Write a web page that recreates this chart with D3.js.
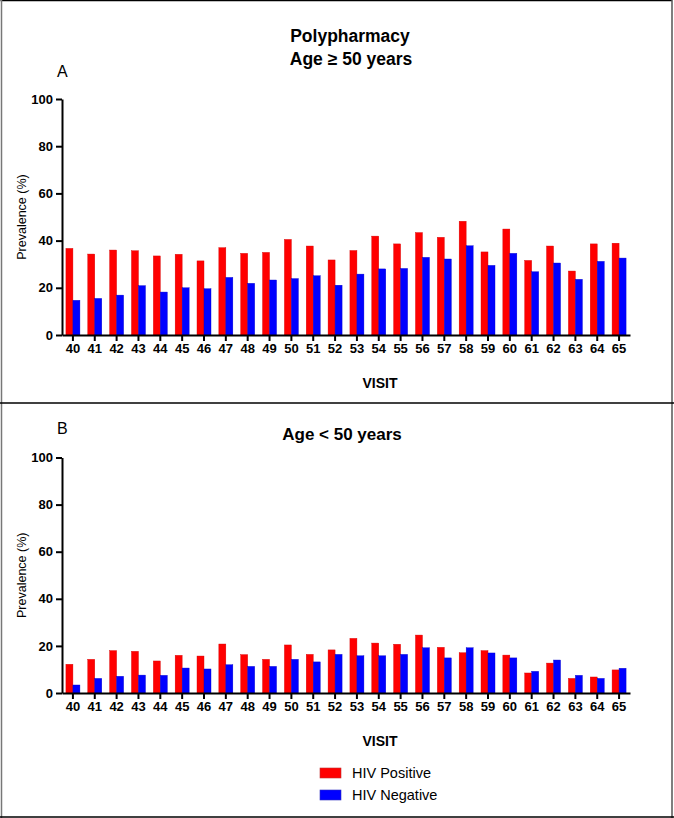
<!DOCTYPE html>
<html>
<head>
<meta charset="utf-8">
<script src="https://cdn.jsdelivr.net/npm/d3@7"></script>
<style>
  html, body { margin: 0; padding: 0; background: #fff; }
  svg { display: block; font-family: "Liberation Sans", Arial, sans-serif; }
</style>
</head>
<body>
<svg id="chart" width="674" height="818"></svg>
<script>
// ---- Data ----
const visits = ["40","41","42","43","44","45","46","47","48","49","50","51","52","53","54","55","56","57","58","59","60","61","62","63","64","65"];
const seriesNames = ["HIV Positive", "HIV Negative"];
const seriesColors = ["#ff0000", "#0000ff"];
const yTicks = [0, 20, 40, 60, 80, 100];

// Panel A: Age >= 50 years
const olderPositive = [36.7,34.3,36.0,35.7,33.5,34.2,31.4,37.0,34.6,35.0,40.5,37.7,31.8,35.8,41.9,38.6,43.4,41.4,48.2,35.2,44.9,31.6,37.7,27.1,38.6,38.9];
const olderNegative = [14.7,15.5,16.9,20.9,18.2,20.0,19.6,24.4,21.9,23.3,23.9,25.1,21.1,25.8,28.0,28.2,32.9,32.2,37.8,29.5,34.6,26.8,30.5,23.6,31.2,32.6];

// Panel B: Age < 50 years
const youngerPositive = [12.2,14.3,18.0,17.7,13.6,16.0,15.7,20.8,16.3,14.3,20.4,16.4,18.3,23.2,21.2,20.7,24.6,19.4,17.1,18.0,16.1,8.5,12.7,6.2,6.8,9.8];
const youngerNegative = [3.4,6.2,7.1,7.6,7.5,10.6,10.2,12.0,11.3,11.3,14.3,13.2,16.4,15.8,15.8,16.4,19.2,14.9,19.2,17.0,14.9,9.2,14.0,7.5,6.2,10.5];

// ---- Drawing ----
const svg = d3.select("#chart");

// frame
svg.append("line").attr("x1", 0.5).attr("y1", 0.5).attr("x2", 672).attr("y2", 0.5).attr("stroke", "#000").attr("stroke-width", 1.5);
svg.append("line").attr("x1", 1.5).attr("y1", 0).attr("x2", 1.5).attr("y2", 818).attr("stroke", "#777").attr("stroke-width", 1.5);
svg.append("line").attr("x1", 672).attr("y1", 0).attr("x2", 672).attr("y2", 818).attr("stroke", "#555").attr("stroke-width", 1.5);
svg.append("line").attr("x1", 0).attr("y1", 403).attr("x2", 674).attr("y2", 403).attr("stroke", "#000").attr("stroke-width", 1.5);
svg.append("line").attr("x1", 0).attr("y1", 817).attr("x2", 674).attr("y2", 817).attr("stroke", "#000").attr("stroke-width", 1.5);

function drawPanel(cfg) {
  const { top, bottom, left, right, pos, neg } = cfg;
  const g = svg.append("g");
  const x = d3.scaleBand().domain(visits).range([left, right]).padding(0);
  const inner = d3.scaleBand().domain(seriesNames).range([x.bandwidth() / 2 - 7, x.bandwidth() / 2 + 7]).padding(0);
  const y = d3.scaleLinear().domain([0, 100]).range([bottom, top]);

  const rows = visits.map((v, i) => ({ visit: v, values: [pos[i], neg[i]] }));
  const groups = g.selectAll("g.grp").data(rows).join("g")
    .attr("class", "grp")
    .attr("transform", d => `translate(${x(d.visit)},0)`);
  groups.selectAll("rect").data(d => d.values.map((val, k) => ({ name: seriesNames[k], val, k })))
    .join("rect")
    .attr("x", d => inner(d.name))
    .attr("width", inner.bandwidth())
    .attr("y", d => y(d.val))
    .attr("height", d => y(0) - y(d.val))
    .attr("fill", d => seriesColors[d.k])
    .attr("stroke", d => d.k === 0 ? "#d40000" : "#0000c8")
    .attr("stroke-width", 0.4);

  // y axis
  const yAxis = g.append("g")
    .attr("transform", `translate(${left},0)`)
    .call(d3.axisLeft(y).tickValues(yTicks).tickSize(6).tickSizeOuter(0).tickPadding(3));
  yAxis.select(".domain").attr("stroke-width", 2);
  yAxis.selectAll(".tick line").attr("stroke-width", 2);
  yAxis.selectAll(".tick text").attr("font-size", 13).attr("font-weight", "bold").attr("fill", "#000")
    .attr("font-family", "'Liberation Sans', Arial, sans-serif");

  // x axis
  const xAxis = g.append("g")
    .attr("transform", `translate(0,${bottom})`)
    .call(d3.axisBottom(x).tickSize(6).tickSizeOuter(0).tickPadding(3));
  xAxis.select(".domain").attr("stroke-width", 2);
  xAxis.selectAll(".tick line").attr("stroke-width", 2);
  xAxis.selectAll(".tick text").attr("font-size", 13).attr("font-weight", "bold").attr("fill", "#000")
    .attr("font-family", "'Liberation Sans', Arial, sans-serif");

  // y label
  g.append("text")
    .attr("transform", `translate(26,${(top + bottom) / 2}) rotate(-90)`)
    .attr("text-anchor", "middle")
    .attr("font-size", 12.5)
    .text("Prevalence (%)");

  // x label
  g.append("text")
    .attr("x", 380).attr("y", bottom + 53)
    .attr("text-anchor", "middle")
    .attr("font-size", 14).attr("font-weight", "bold")
    .text("VISIT");
}

drawPanel({ top: 99, bottom: 335, left: 62, right: 630, pos: olderPositive, neg: olderNegative });
drawPanel({ top: 457.5, bottom: 693, left: 62, right: 630, pos: youngerPositive, neg: youngerNegative });

// titles
svg.append("text").attr("x", 350).attr("y", 42).attr("text-anchor", "middle")
  .attr("font-size", 17.5).attr("font-weight", "bold").text("Polypharmacy");
svg.append("text").attr("x", 351).attr("y", 65).attr("text-anchor", "middle")
  .attr("font-size", 17.5).attr("font-weight", "bold").text("Age \u2265 50 years");
svg.append("text").attr("x", 57).attr("y", 77).attr("font-size", 16).text("A");

svg.append("text").attr("x", 57).attr("y", 434).attr("font-size", 16).text("B");
svg.append("text").attr("x", 342).attr("y", 440).attr("text-anchor", "middle")
  .attr("font-size", 17).attr("font-weight", "bold").text("Age < 50 years");

// legend
const legend = svg.append("g");
seriesNames.forEach((name, i) => {
  legend.append("rect")
    .attr("x", 320).attr("y", 768 + i * 22)
    .attr("width", 21).attr("height", 10)
    .attr("fill", seriesColors[i])
    .attr("stroke", i === 0 ? "#c03030" : "#3030c0").attr("stroke-width", 0.6);
  legend.append("text")
    .attr("x", 352).attr("y", 778 + i * 22)
    .attr("font-size", 14.5)
    .text(name);
});
</script>
</body>
</html>
